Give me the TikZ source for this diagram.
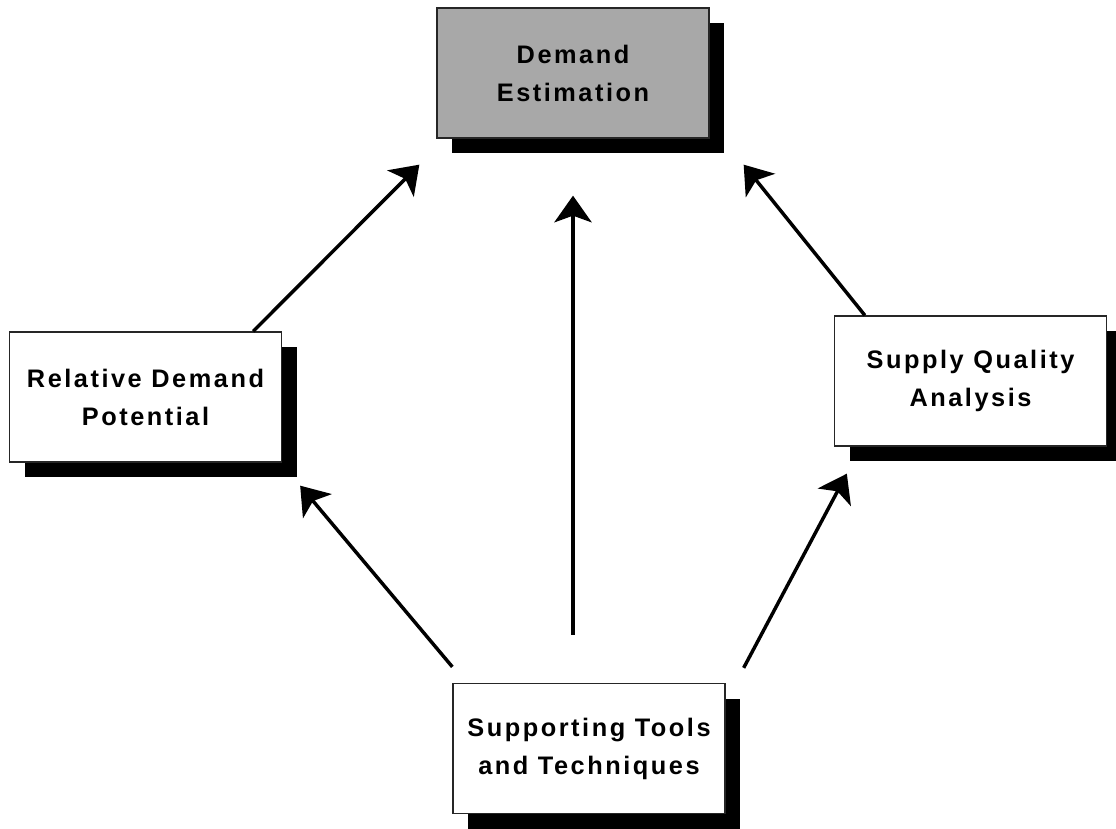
\documentclass[tikz,border=0pt]{standalone}
\usepackage{fontspec}
\newfontfamily\boxfont{Liberation Sans}[LetterSpace=10]
\usetikzlibrary{arrows.meta,shadows}
\definecolor{boxgray}{RGB}{168,168,168}

\tikzset{every picture/.style={line width=0.75pt}}
\tikzset{
  wbox/.style={draw=black!85, line width=1pt, fill=white, inner sep=0pt,
    minimum width=204pt, minimum height=97.5pt, align=center,
    font=\boxfont\bfseries\fontsize{19}{28.5}\selectfont,
    drop shadow={shadow xshift=11.25pt, shadow yshift=-11.25pt, fill=black, opacity=1}},
  gbox/.style={wbox, fill=boxgray},
  arr/.style={line width=2.6pt, -{Stealth[length=20pt,width=28pt,inset=5pt]}}
}

\begin{document}
\begin{tikzpicture}[x=0.75pt,y=0.75pt,yscale=-1,xscale=1]
\useasboundingbox (0,0) rectangle (1116,828);

%Shape: Rectangle [id:dem]
\node[gbox] (dem) at (573,73) {Demand\\Estimation};
%Shape: Rectangle [id:rel]
\node[wbox] (rel) at (145.5,397) {Relative Demand\\Potential};
%Shape: Rectangle [id:sup]
\node[wbox] (sup) at (970.5,381) {Supply Quality\\Analysis};
%Shape: Rectangle [id:sto]
\node[wbox] (sto) at (589,748.5) {Supporting Tools\\and Techniques};

%Straight Lines [id:rel-dem]
\draw[arr] ([shift={(-29,0)}]rel.north east) -- ([shift={(-17,26)}]dem.south west);
%Straight Lines [id:sup-dem]
\draw[arr] ([shift={(31,0)}]sup.north west) -- ([shift={(34,26)}]dem.south east);
%Straight Lines [id:sto-dem]
\draw[arr] ([shift={(-16,-48)}]sto.north) -- ([shift={(0,57)}]dem.south);
%Straight Lines [id:sto-rel]
\draw[arr] ([shift={(0,-16)}]sto.north west) -- ([shift={(18,23)}]rel.south east);
%Straight Lines [id:sto-sup]
\draw[arr] ([shift={(18,-15)}]sto.north east) -- ([shift={(13,27)}]sup.south west);

\end{tikzpicture}
\end{document}
